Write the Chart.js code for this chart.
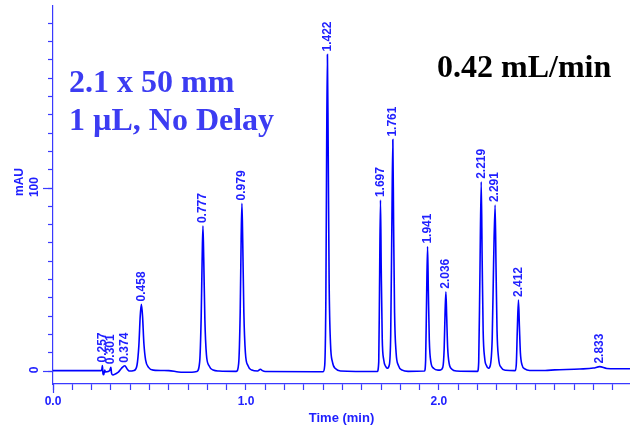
<!DOCTYPE html>
<html>
<head>
<meta charset="utf-8">
<script src="https://cdn.jsdelivr.net/npm/chart.js@4.4.1/dist/chart.umd.min.js"></script>
<style>
  html, body { margin: 0; padding: 0; background: #fff; }
  #chart { display: block; }
</style>
</head>
<body>
<canvas id="chart" width="630" height="429"></canvas>
<script>
// trace: time (min) and absorbance (mAU)
var times = [
  0.000, 0.240, 0.252, 0.256, 0.259, 0.263, 0.268, 0.272, 0.285, 0.295,
  0.300, 0.303, 0.310, 0.325, 0.340, 0.355, 0.372, 0.385, 0.395, 0.420,
  0.435, 0.445, 0.452, 0.458, 0.464, 0.471, 0.480, 0.495, 0.520, 0.600,
  0.650, 0.720, 0.745, 0.760, 0.768, 0.773, 0.777, 0.781, 0.787, 0.795,
  0.808, 0.830, 0.860, 0.950, 0.962, 0.970, 0.975, 0.979, 0.983, 0.989,
  0.997, 1.010, 1.030, 1.060, 1.075, 1.085, 1.100, 1.400, 1.408, 1.414,
  1.418, 1.422, 1.426, 1.431, 1.438, 1.448, 1.465, 1.490, 1.680, 1.688,
  1.692, 1.697, 1.701, 1.706, 1.714, 1.724, 1.732, 1.742, 1.750, 1.756,
  1.761, 1.765, 1.770, 1.778, 1.790, 1.810, 1.840, 1.925, 1.931, 1.936,
  1.941, 1.945, 1.950, 1.958, 1.972, 1.995, 2.006, 2.020, 2.027, 2.032,
  2.036, 2.040, 2.045, 2.053, 2.067, 2.090, 2.200, 2.206, 2.212, 2.219,
  2.224, 2.229, 2.237, 2.247, 2.256, 2.266, 2.276, 2.283, 2.291, 2.296,
  2.301, 2.309, 2.322, 2.345, 2.395, 2.401, 2.406, 2.412, 2.417, 2.422,
  2.430, 2.445, 2.470, 2.550, 2.600, 2.730, 2.800, 2.833, 2.870, 2.990
];
var mAU = [
  0.2, 0.2, 0.3, 3.0, -1.5, -2.0, 0.5, -0.5, -0.3, 0.5,
  2.0, -1.0, -2.2, -1.5, -0.5, 1.5, 2.9, 1.0, 0.0, 0.3,
  3, 14, 30, 36.4, 30, 15, 6, 2, 0.5, 0.2,
  -0.5, -0.7, -0.3, 5, 30, 62, 79.2, 62, 28, 9,
  3, 0.5, 0, -0.2, 4, 32, 72, 91.6, 72, 32,
  10, 3, 0.5, 0, 1.0, 0.2, -0.3, -0.4, 3, 40,
  120, 173, 122, 48, 15, 5, 1.2, 0, -0.3, 5,
  45, 93.4, 55, 18, 6, 2.5, 1.5, 3, 20, 80,
  126.5, 80, 32, 10, 3, 0.5, -0.2, 0, 6, 40,
  68, 44, 17, 5, 1.5, 0.5, 0.5, 2, 12, 33,
  43.3, 30, 13, 4, 1, 0, -0.2, 5, 50, 103.4,
  60, 22, 7, 2.8, 1.5, 3, 18, 58, 90.7, 55,
  22, 7, 2, 0.4, 0.2, 4, 22, 38.8, 24, 10,
  3.5, 1.2, 0.3, 0.3, 0.6, 1.1, 1.6, 2.4, 1.4, 1.2
];

// peak annotations
var peakLabels = ['0.257', '0.301', '0.374', '0.458', '0.777', '0.979', '1.422', '1.697',
                  '1.761', '1.941', '2.036', '2.219', '2.291', '2.412', '2.833'];
var peakTimes = [0.257, 0.301, 0.374, 0.458, 0.777, 0.979, 1.422, 1.697,
                 1.761, 1.941, 2.036, 2.219, 2.291, 2.412, 2.833];
var peakTops = [3.0, 2.0, 2.9, 36.4, 79.2, 91.6, 173, 93.4,
                126.5, 68, 43.3, 103.4, 90.7, 38.8, 2.4];

var xTickLabels = ['0.0', '1.0', '2.0'];
var yTickLabels = ['0', '100'];

var axisColor = '#3a3aff';
var labelColor = '#2020ff';

var overlay = {
  id: 'overlay',
  afterDraw: function(chart) {
    var ctx = chart.ctx;
    var xs = chart.scales.x, ys = chart.scales.y;
    var left = xs.left, bottom = ys.bottom;
    ctx.save();

    // longer ticks at labelled y values, y axis runs a bit below x axis
    ctx.strokeStyle = axisColor;
    ctx.lineWidth = 1.2;
    yTickLabels.forEach(function(t) {
      var py = Math.round(ys.getPixelForValue(+t)) + 0.5;
      ctx.beginPath(); ctx.moveTo(left - 10, py); ctx.lineTo(left, py); ctx.stroke();
    });
    ctx.beginPath(); ctx.moveTo(left + 0.5, bottom); ctx.lineTo(left + 0.5, bottom + 9); ctx.stroke();

    // y tick labels + unit, turned on their side
    ctx.fillStyle = labelColor;
    ctx.font = 'bold 12px "Liberation Sans", Arial, sans-serif';
    ctx.textAlign = 'center';
    ctx.textBaseline = 'middle';
    yTickLabels.forEach(function(t) {
      var py = ys.getPixelForValue(+t);
      ctx.save(); ctx.translate(35, py - 1); ctx.rotate(-Math.PI / 2);
      ctx.fillText(t, 0, 0); ctx.restore();
    });
    ctx.save(); ctx.translate(20, 182); ctx.rotate(-Math.PI / 2);
    ctx.fillText('mAU', 0, 0); ctx.restore();

    // retention time labels above each peak
    ctx.font = 'bold 12px "Liberation Sans", Arial, sans-serif';
    ctx.textAlign = 'left';
    peakLabels.forEach(function(lab, i) {
      var px = xs.getPixelForValue(peakTimes[i]);
      var py = ys.getPixelForValue(peakTops[i]) - 3;
      ctx.save(); ctx.translate(px, py); ctx.rotate(-Math.PI / 2);
      ctx.fillText(lab, 0, 0); ctx.restore();
    });

    // method notes
    ctx.textBaseline = 'alphabetic';
    ctx.font = 'bold 32px "Liberation Serif", "Times New Roman", serif';
    ctx.fillStyle = '#3c3cf2';
    ctx.fillText('2.1 x 50 mm', 69, 92);
    ctx.fillText('1 \u00b5L, No Delay', 69, 130);
    ctx.fillStyle = '#000';
    ctx.fillText('0.42 mL/min', 437, 77);
    ctx.restore();
  }
};

new Chart(document.getElementById('chart'), {
  type: 'line',
  data: {
    datasets: [{
      data: times.map(function(t, i) { return { x: t, y: mAU[i] }; }),
      borderColor: '#0000ff',
      borderWidth: 1.6,
      pointRadius: 0,
      fill: false,
      cubicInterpolationMode: 'monotone'
    }]
  },
  options: {
    responsive: false,
    animation: false,
    devicePixelRatio: 1,
    layout: { padding: { top: 6, left: 0, right: 0, bottom: 0 } },
    plugins: { legend: { display: false }, tooltip: { enabled: false } },
    scales: {
      x: {
        type: 'linear',
        min: 0,
        max: 2.99,
        afterFit: function(s) { s.height = 45; },
        border: { color: axisColor, width: 1.2 },
        grid: { drawOnChartArea: false, tickLength: 6, color: axisColor, tickColor: axisColor, tickWidth: 1.2 },
        ticks: {
          stepSize: 0.1,
          autoSkip: false,
          maxRotation: 0,
          minRotation: 0,
          includeBounds: false,
          padding: 4,
          color: labelColor,
          font: { family: '"Liberation Sans", Arial, sans-serif', weight: 'bold', size: 12 },
          callback: function(v) {
            var r = Math.round(v);
            return Math.abs(v - r) < 1e-6 && xTickLabels[r] !== undefined ? xTickLabels[r] : '';
          }
        },
        title: {
          display: true,
          text: 'Time (min)',
          color: labelColor,
          font: { family: '"Liberation Sans", Arial, sans-serif', weight: 'bold', size: 13 },
          padding: { top: 0, bottom: 3 }
        }
      },
      y: {
        min: -7.1,
        max: 199.5,
        afterFit: function(s) { s.width = 53; },
        border: { color: axisColor, width: 1.2 },
        grid: { drawOnChartArea: false, tickLength: 5, color: axisColor, tickColor: axisColor, tickWidth: 1.2 },
        ticks: { stepSize: 10, includeBounds: false, display: false }
      }
    }
  },
  plugins: [overlay]
});
</script>
</body>
</html>
